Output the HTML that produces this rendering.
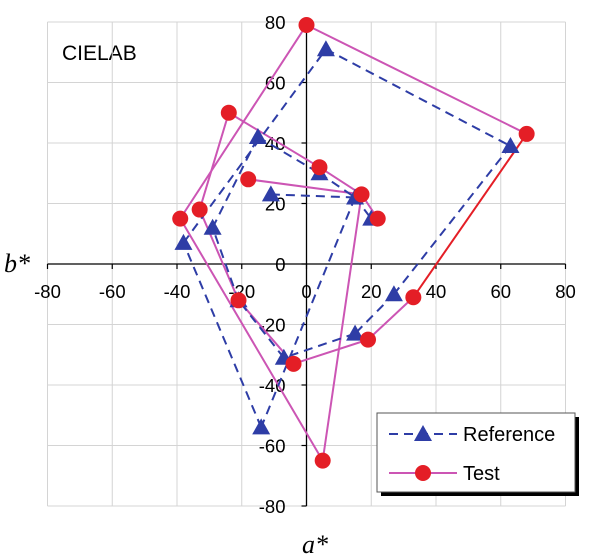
<!DOCTYPE html>
<html><head><meta charset="utf-8"><style>
body{margin:0;background:#fff;}
svg{display:block;font-family:"Liberation Sans",Arial,sans-serif;}
</style></head><body>
<svg id="s" width="600" height="557" xmlns="http://www.w3.org/2000/svg">
<text x="62" y="60" font-size="21">CIELAB</text>
<text x="4" y="272" font-size="26" font-style="italic" font-family="Liberation Serif,serif">b*</text>
<text x="302" y="553" font-size="26" font-style="italic" font-family="Liberation Serif,serif">a*</text>
</svg>
<script>
const s=document.getElementById('s');const NS='http://www.w3.org/2000/svg';
const X=a=>306.5+a*3.2375, Y=b=>264-b*3.025;
function el(t,at,txt){const e=document.createElementNS(NS,t);for(const k in at)e.setAttribute(k,at[k]);if(txt!==undefined)e.textContent=txt;s.appendChild(e);return e;}
for(let v=-80;v<=80;v+=20){
 el('line',{x1:X(v),x2:X(v),y1:Y(80),y2:Y(-80),stroke:'#d4d4d4','stroke-width':1});
 el('line',{x1:X(-80),x2:X(80),y1:Y(v),y2:Y(v),stroke:'#d4d4d4','stroke-width':1});
}
el('line',{x1:X(0),x2:X(0),y1:Y(80),y2:Y(-80),stroke:'#000','stroke-width':1.3});
el('line',{x1:X(-80),x2:X(80),y1:Y(0),y2:Y(0),stroke:'#000','stroke-width':1.3});
for(let v=-80;v<=80;v+=20){
 el('line',{x1:X(v),x2:X(v),y1:Y(0),y2:Y(0)+5,stroke:'#000','stroke-width':1.2});
 el('line',{x1:X(0)-5,x2:X(0),y1:Y(v),y2:Y(v),stroke:'#000','stroke-width':1.2});
 el('text',{x:X(v),y:Y(0)+34,'font-size':18.5,'text-anchor':'middle'},v);
 el('text',{x:X(0)-21,y:Y(v)+7,'font-size':18.5,'text-anchor':'end'},v);
}
const R={A:[6,71],B:[63,39],C:[27,-10],D:[15,-23],E:[-7,-31],F:[-14,-54],G:[-38,7],H:[-29,12],I:[-21,-12],J:[-15,42],K:[4,30],L:[15,22],M:[20,15],N:[-11,23]};
const T={a:[0,79],b:[68,43],c:[33,-11],d:[19,-25],e:[-4,-33],f:[5,-65],g:[-39,15],h:[-33,18],i:[-21,-12],j:[-24,50],k:[4,32],l:[17,23],m:[22,15],n:[-18,28]};
const blue='#2e3da6',pink='#cc55b4',red='#e41e26';
const segR=['AB','BC','CD','DE','EI','IH','HJ','JK','KL','LM','NL','LF','FG','GA'];
const segT=['ab','bc','cd','de','ei','ih','hj','jk','kl','lm','nl','lf','fg','ga'];
function seg(P,s2,c,dash){const p=P[s2[0]],q=P[s2[1]];const a={x1:X(p[0]),y1:Y(p[1]),x2:X(q[0]),y2:Y(q[1]),stroke:c,'stroke-width':2};if(dash)a['stroke-dasharray']='9 6';el('line',a);}
segT.forEach(x=>seg(T,x,x==='bc'?red:pink,false));
segR.forEach(x=>seg(R,x,blue,true));
function tri(x,y,c){el('polygon',{points:`${x},${y-9} ${x-9},${y+7} ${x+9},${y+7}`,fill:c});}
for(const k in R)tri(X(R[k][0]),Y(R[k][1]),blue);
for(const k in T)el('circle',{cx:X(T[k][0]),cy:Y(T[k][1]),r:8,fill:red});
el('rect',{x:381,y:417,width:198,height:79,fill:'#000'});
el('rect',{x:377,y:413,width:198,height:79,fill:'#fff',stroke:'#555','stroke-width':1});
el('line',{x1:389,x2:457,y1:434,y2:434,stroke:blue,'stroke-width':2,'stroke-dasharray':'9 6'});
tri(423,434,blue);
el('text',{x:463,y:441,'font-size':20},'Reference');
el('line',{x1:389,x2:457,y1:473,y2:473,stroke:pink,'stroke-width':2});
el('circle',{cx:423,cy:473,r:8,fill:red});
el('text',{x:463,y:480,'font-size':20},'Test');
</script>
</body></html>
